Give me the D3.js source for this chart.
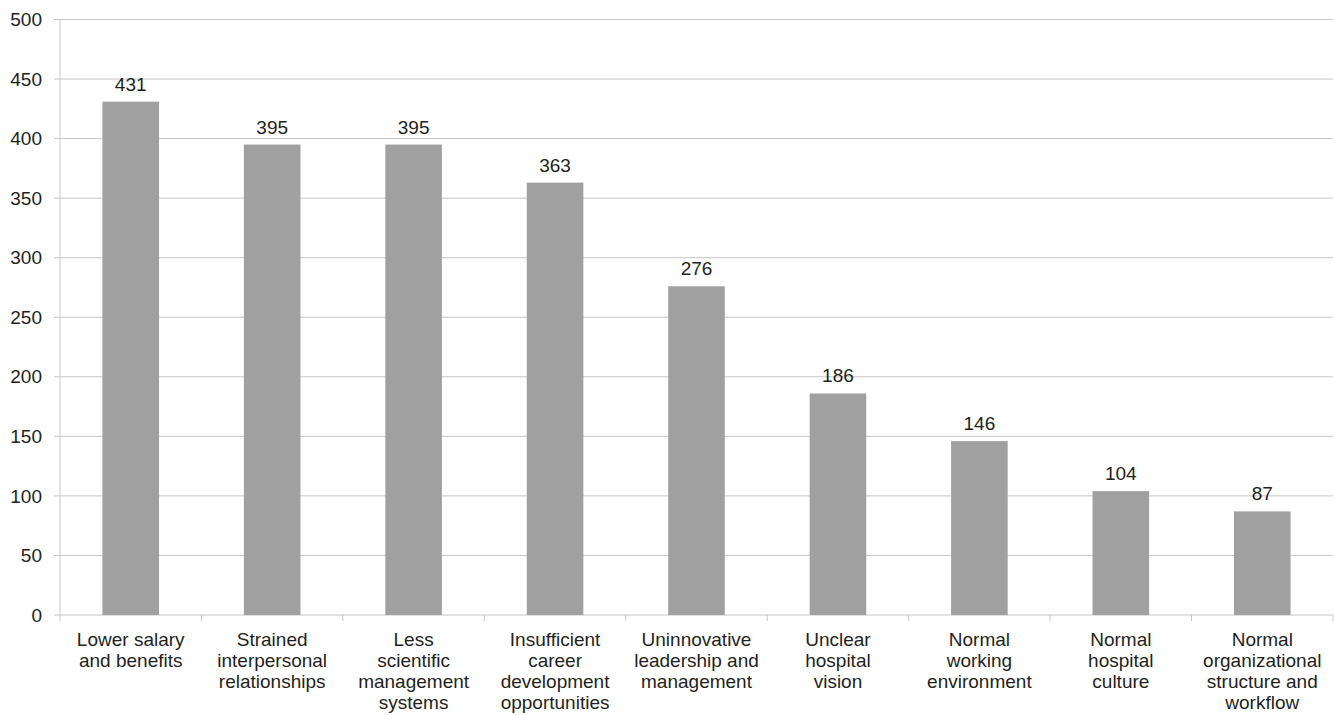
<!DOCTYPE html>
<html>
<head>
<meta charset="utf-8">
<script src="https://cdn.jsdelivr.net/npm/d3@7"></script>
<style>
  body { margin: 0; background: #fff; }
  text { font-family: "Liberation Sans", Arial, sans-serif; fill: #231f20; }
</style>
</head>
<body>
<svg id="chart" width="1334" height="715"></svg>
<script>
// data
const categories = [
  ["Lower salary", "and benefits"],
  ["Strained", "interpersonal", "relationships"],
  ["Less", "scientific", "management", "systems"],
  ["Insufficient", "career", "development", "opportunities"],
  ["Uninnovative", "leadership and", "management"],
  ["Unclear", "hospital", "vision"],
  ["Normal", "working", "environment"],
  ["Normal", "hospital", "culture"],
  ["Normal", "organizational", "structure and", "workflow"]
];
const values = [431, 395, 395, 363, 276, 186, 146, 104, 87];
const yTicks = [0, 50, 100, 150, 200, 250, 300, 350, 400, 450, 500];

const svg = d3.select('#chart');
const margin = {top: 19.5, right: 1, bottom: 100, left: 60};
const width = 1334 - margin.left - margin.right;
const height = 715 - margin.top - margin.bottom;
const fontSize = '19px';

const g = svg.append('g').attr('transform', 'translate(' + margin.left + ',' + margin.top + ')');

const x = d3.scaleBand()
  .domain(d3.range(categories.length))
  .range([0, width])
  .paddingInner(0.6)
  .paddingOuter(0.3);

const y = d3.scaleLinear().domain([0, 500]).range([height, 0]);

// gridlines
g.append('g')
  .selectAll('line')
  .data(yTicks)
  .enter()
  .append('line')
    .attr('x1', -6)
    .attr('x2', width)
    .attr('y1', d => y(d))
    .attr('y2', d => y(d))
    .attr('stroke', '#c6c6c6')
    .attr('stroke-width', 1);

// y labels
g.append('g')
  .selectAll('text')
  .data(yTicks)
  .enter()
  .append('text')
    .attr('x', -18)
    .attr('y', d => y(d))
    .attr('dy', '0.35em')
    .attr('text-anchor', 'end')
    .attr('font-size', fontSize)
    .text(d => d);

// y axis line
g.append('line')
  .attr('x1', 0).attr('x2', 0)
  .attr('y1', 0).attr('y2', height)
  .attr('stroke', '#c6c6c6');

// x tick marks at category boundaries
const step = x.step();
g.append('g')
  .selectAll('line')
  .data(d3.range(categories.length + 1))
  .enter()
  .append('line')
    .attr('x1', i => i * step)
    .attr('x2', i => i * step)
    .attr('y1', height)
    .attr('y2', height + 6)
    .attr('stroke', '#c6c6c6');

// bars
g.append('g')
  .selectAll('rect')
  .data(values)
  .enter()
  .append('rect')
    .attr('x', (d, i) => x(i))
    .attr('y', d => y(d))
    .attr('width', x.bandwidth())
    .attr('height', d => height - y(d))
    .attr('fill', '#a0a0a0');

// value labels
g.append('g')
  .selectAll('text')
  .data(values)
  .enter()
  .append('text')
    .attr('x', (d, i) => x(i) + x.bandwidth() / 2)
    .attr('y', d => y(d) - 11)
    .attr('text-anchor', 'middle')
    .attr('font-size', fontSize)
    .text(d => d);

// category labels
const labels = g.append('g')
  .selectAll('text')
  .data(categories)
  .enter()
  .append('text')
    .attr('text-anchor', 'middle')
    .attr('font-size', fontSize)
    .attr('transform', (d, i) => 'translate(' + (x(i) + x.bandwidth() / 2) + ',' + (height + 31) + ')');

labels.selectAll('tspan')
  .data(d => d)
  .enter()
  .append('tspan')
    .attr('x', 0)
    .attr('y', (d, j) => j * 21)
    .text(d => d);
</script>
</body>
</html>
